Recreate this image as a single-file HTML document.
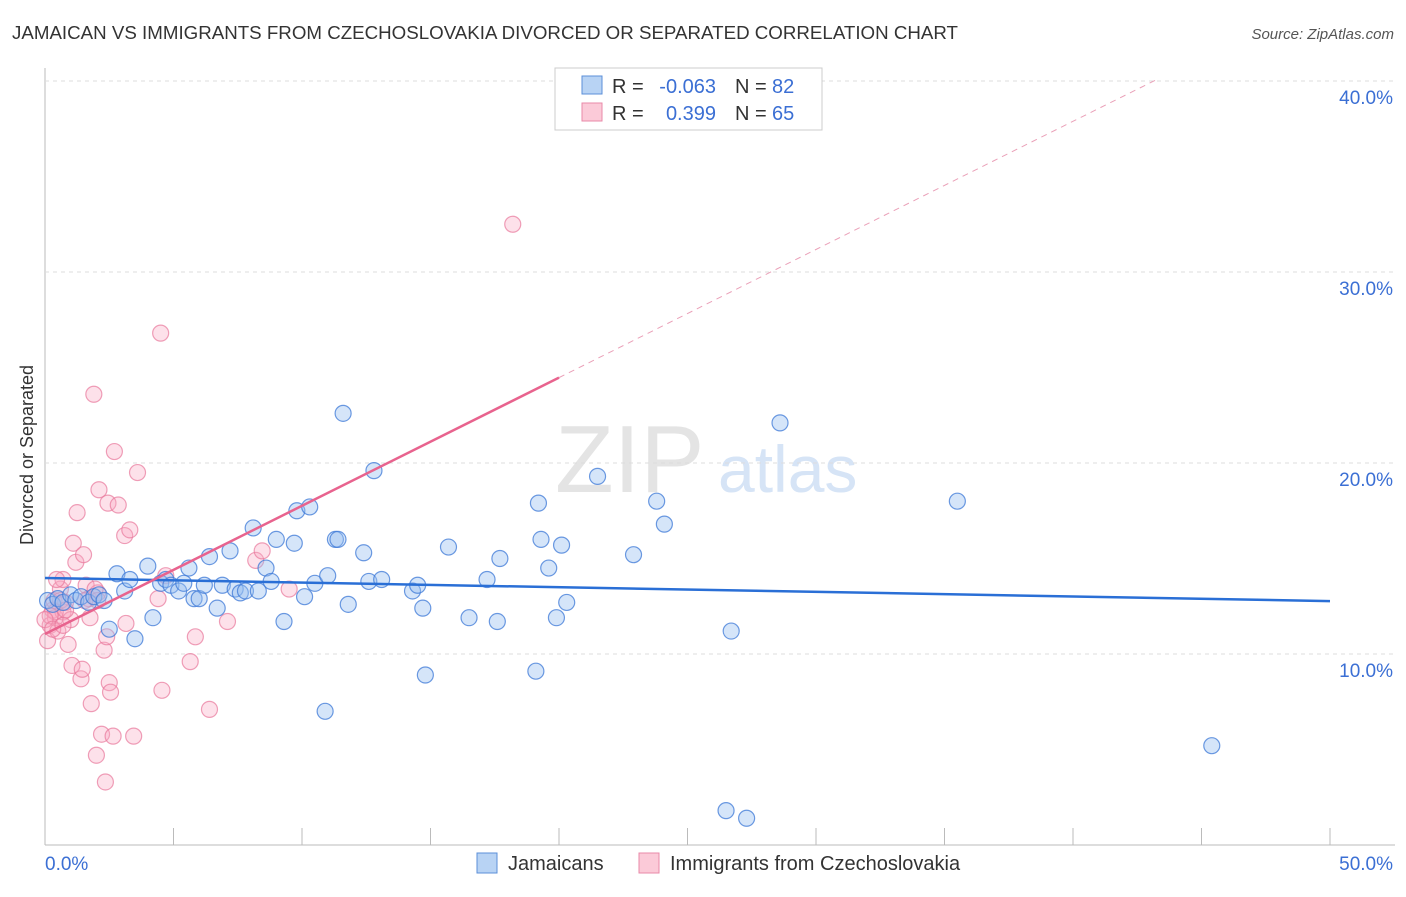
<!DOCTYPE html>
<html><head><meta charset="utf-8"><style>
body{margin:0;background:#fff;font-family:"Liberation Sans",sans-serif}
svg text{font-family:"Liberation Sans",sans-serif}
</style></head><body>
<svg id="c" width="1406" height="892" xmlns="http://www.w3.org/2000/svg">
<text x="12" y="39" font-size="18" fill="#333" textLength="946" lengthAdjust="spacingAndGlyphs">JAMAICAN VS IMMIGRANTS FROM CZECHOSLOVAKIA DIVORCED OR SEPARATED CORRELATION CHART</text>
<text x="1394" y="39" font-size="15" fill="#555" font-style="italic" text-anchor="end">Source: ZipAtlas.com</text>
<text x="33" y="455" font-size="18" fill="#333" text-anchor="middle" transform="rotate(-90 33 455)">Divorced or Separated</text>
<text x="555" y="492" font-size="96" fill="#e4e4e4" font-family="Liberation Serif">ZIP</text>
<text x="718" y="492" font-size="66" fill="#d6e4f6">atlas</text>
<g id="grid"></g><g id="pts"></g><g id="lines"></g>
<g>
<rect x="555" y="68" width="267" height="62" fill="#fff" stroke="#ccc"/>
<rect x="582" y="76" width="20" height="18" fill="#b8d3f4" stroke="#5b8fd8"/>
<rect x="582" y="103" width="20" height="18" fill="#fbcad8" stroke="#e889a8"/>
<text x="612" y="93" font-size="20" fill="#333">R =</text>
<text x="716" y="93" font-size="20" fill="#3b6fd4" text-anchor="end">-0.063</text>
<text x="735" y="93" font-size="20" fill="#333">N =</text>
<text x="772" y="93" font-size="20" fill="#3b6fd4">82</text>
<text x="612" y="120" font-size="20" fill="#333">R =</text>
<text x="716" y="120" font-size="20" fill="#3b6fd4" text-anchor="end">0.399</text>
<text x="735" y="120" font-size="20" fill="#333">N =</text>
<text x="772" y="120" font-size="20" fill="#3b6fd4">65</text>
</g>
<g>
<rect x="477" y="853" width="20" height="20" fill="#b8d3f4" stroke="#5b8fd8"/>
<text x="508" y="870" font-size="20" fill="#333">Jamaicans</text>
<rect x="639" y="853" width="20" height="20" fill="#fbcad8" stroke="#e889a8"/>
<text x="670" y="870" font-size="20" fill="#333">Immigrants from Czechoslovakia</text>
</g>
</svg>
<script>
const xTicks=[0,5,10,15,20,25,30,35,40,45,50];
const yTicks=[10,20,30,40];
const blueX=[0.1,0.3,0.5,0.7,1,1.2,1.4,1.7,1.9,2.1,2.3,2.5,2.8,3.1,3.3,3.5,4,4.2,4.5,4.7,4.9,5.2,5.4,5.6,5.8,6.0,6.2,6.4,6.7,6.9,7.2,7.4,7.6,7.8,8.1,8.3,8.6,8.8,9,9.3,9.7,9.8,10.1,10.3,10.5,10.9,11,11.3,11.4,11.6,11.8,12.4,12.6,12.8,13.1,14.3,14.5,14.7,14.8,15.7,16.5,17.2,17.6,17.7,19.1,19.2,19.3,19.6,19.9,20.1,20.3,21.5,22.9,23.8,24.1,26.5,26.7,27.3,28.6,35.5,45.4];
const blueY=[12.8,12.6,12.9,12.7,13.1,12.8,13.0,12.7,13.0,13.1,12.8,11.3,14.2,13.3,13.9,10.8,14.6,11.9,13.7,13.9,13.6,13.3,13.7,14.5,12.9,12.9,13.6,15.1,12.4,13.6,15.4,13.4,13.2,13.3,16.6,13.3,14.5,13.8,16.0,11.7,15.8,17.5,13.0,17.7,13.7,7.0,14.1,16.0,16.0,22.6,12.6,15.3,13.8,19.6,13.9,13.3,13.6,12.4,8.9,15.6,11.9,13.9,11.7,15.0,9.1,17.9,16.0,14.5,11.9,15.7,12.7,19.3,15.2,18.0,16.8,1.8,11.2,1.4,22.1,18.0,5.2];
const pinkX=[0.1,0.2,0.3,0.35,0.4,0.5,0.6,0.7,0.7,0.8,0.9,1.0,1.05,1.1,1.2,1.25,1.4,1.45,1.5,1.6,1.7,1.75,1.8,1.9,2.0,2.05,2.1,2.2,2.3,2.35,2.4,2.45,2.5,2.55,2.65,2.7,2.85,3.1,3.15,3.3,3.45,3.6,4.4,4.5,4.55,4.7,5.65,5.85,6.4,7.1,8.2,8.45,9.5,18.2,0.6,0.4,0.2,0.45,0.8,1.55,1.95,2.05,0,0.3,0.7];
const pinkY=[10.7,11.5,12.3,12.8,11.9,11.2,13.4,12.2,13.9,12.7,10.5,11.8,9.4,15.8,14.8,17.4,8.7,9.2,15.2,13.6,12.9,11.9,7.4,23.6,4.7,13.2,18.6,5.8,10.2,3.3,10.9,17.9,8.5,8.0,5.7,20.6,17.8,16.2,11.6,16.5,5.7,19.5,12.9,26.8,8.1,14.1,9.6,10.9,7.1,11.7,14.9,15.4,13.4,32.5,12.8,12.2,12.0,13.9,12.3,12.8,13.4,12.8,11.8,11.3,11.5];
const blueTrend=[13.98,12.77];
const pinkTrend=[11.05,44.6];
const X=v=>45+v*25.7, Y=v=>845-v*19.1;
const NS='http://www.w3.org/2000/svg';
function mk(tag,attrs,parent){const e=document.createElementNS(NS,tag);for(const k in attrs)e.setAttribute(k,attrs[k]);parent.appendChild(e);return e;}
const g=document.getElementById('grid');
let ax=mk('line',{x1:45,y1:68,x2:45,y2:845,stroke:'#bbb'},g);


let bx=mk('line',{x1:45,y1:845,x2:1395,y2:845,stroke:'#bbb'},g);


yTicks.forEach(t=>{
 const l=mk('line',{x1:45,y1:Y(t),x2:1395,y2:Y(t),stroke:'#ddd','stroke-dasharray':'4 4'},g);
 
 
 const tx=mk('text',{x:1393,y:Y(t)+23,'font-size':19,fill:'#3b6fd4','text-anchor':'end'},g);
 tx.textContent=t.toFixed(1)+'%';
 
 
});
xTicks.forEach(t=>{
 const l=mk('line',{x1:X(t),y1:828,x2:X(t),y2:845,stroke:'#bbb'},g);
 
 
});
[[0,'0.0%','start',45],[50,'50.0%','end',1393]].forEach(a=>{
 const tx=mk('text',{x:a[3],y:870,'font-size':19,fill:'#3b6fd4','text-anchor':a[2]},g);
 tx.textContent=a[1];
 
 
});
const p=document.getElementById('pts');
pinkX.forEach((x,i)=>{
 const c=mk('circle',{cx:X(x),cy:Y(pinkY[i]),r:8,fill:'rgba(248,170,195,0.35)',stroke:'rgba(232,120,155,0.7)','stroke-width':1.2},p);
 
 
});
blueX.forEach((x,i)=>{
 const c=mk('circle',{cx:X(x),cy:Y(blueY[i]),r:8,fill:'rgba(150,190,240,0.4)',stroke:'rgba(60,120,215,0.75)','stroke-width':1.2},p);
 
 
});
const L=document.getElementById('lines');
const pf=x=>pinkTrend[0]+(pinkTrend[1]-pinkTrend[0])*x/50;
let b=mk('line',{x1:X(0),y1:Y(blueTrend[0]),x2:X(50),y2:Y(blueTrend[1]),stroke:'#2a6fd6','stroke-width':2.5},L);


let ps=mk('line',{x1:X(0),y1:Y(pf(0)),x2:X(20),y2:Y(pf(20)),stroke:'#e8638e','stroke-width':2.5},L);


let pd=mk('line',{x1:X(20),y1:Y(pf(20)),x2:X(43.2),y2:Y(pf(43.2)),stroke:'#eaa0b8','stroke-width':1,'stroke-dasharray':'6 5'},L);


</script>
</body></html>
